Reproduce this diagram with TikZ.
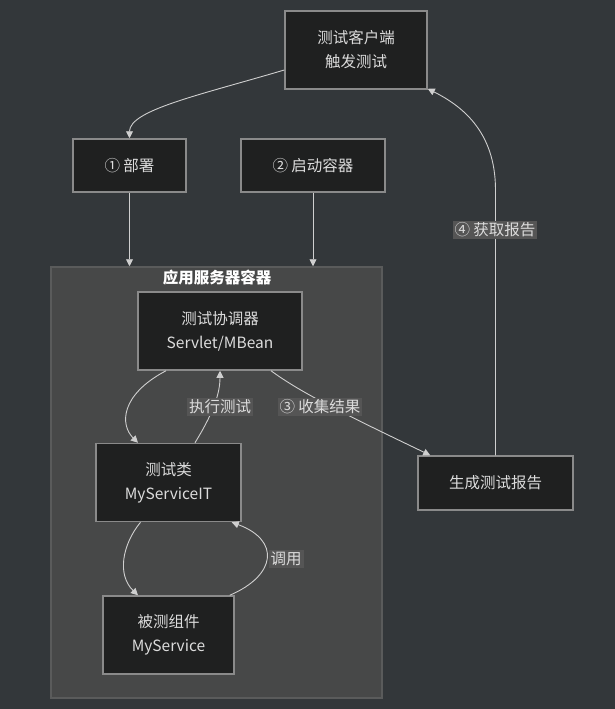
\documentclass[tikz,border=0pt]{standalone}
\usepackage{fontspec}
\setmainfont{Noto Sans CJK SC}
\usetikzlibrary{arrows.meta,calc}
\definecolor{bgc}{HTML}{33373A}
\definecolor{boxfill}{HTML}{1F2020}
\definecolor{boxline}{HTML}{8A8A8A}
\definecolor{clusterfill}{HTML}{474848}
\definecolor{clusterline}{HTML}{5A5B5B}
\definecolor{edgec}{HTML}{CFCFCF}
\definecolor{txtc}{HTML}{DCDCDC}
\definecolor{lblfill}{HTML}{555555}
\tikzset{
  stepbox/.style={draw=boxline, line width=1.5pt, fill=boxfill, text=txtc,
    font=\fontsize{15.5}{24}\selectfont, align=center, inner sep=0pt},
  arr/.style={draw=edgec, line width=0.9pt,
    -{Triangle[length=7pt,width=7pt]}},
  edgelabel/.style={fill=lblfill, text=txtc, inner sep=2pt,
    font=\fontsize{15.5}{18}\selectfont},
}
\begin{document}
\begin{tikzpicture}[x=1pt,y=-1pt]
  \fill[bgc] (0,0) rectangle (615,709);
  \useasboundingbox (0,0) rectangle (615,709);

  % application server cluster
  \node[draw=clusterline, line width=1.5pt, fill=clusterfill,
        minimum width=331pt, minimum height=431pt, inner sep=0pt]
        (cont) at (216.5,482.5) {};
  \node[text=white, font=\fontsize{15.5}{18}\selectfont\bfseries]
        (conttitle) at (217,278) {应用服务器容器};

  % nodes
  \node[stepbox, minimum width=142pt, minimum height=78pt] (client) at (356,50)
        {测试客户端\\触发测试};
  \node[stepbox, minimum width=113pt, minimum height=53pt] (deploy) at (129.5,165.5)
        {① 部署};
  \node[stepbox, minimum width=144pt, minimum height=53pt] (start) at (313,165.5)
        {② 启动容器};
  \node[stepbox, minimum width=164pt, minimum height=78pt] (coord) at (220,331)
        {测试协调器\\Servlet/MBean};
  \node[stepbox, minimum width=145pt, minimum height=78pt] (testc) at (168.5,482.5)
        {测试类\\MyServiceIT};
  \node[stepbox, minimum width=131pt, minimum height=78pt] (svc) at (168.5,635)
        {被测组件\\MyService};
  \node[stepbox, minimum width=155pt, minimum height=54pt] (report) at (495.5,483)
        {生成测试报告};

  % connectors
  \draw[arr] ($(client.west)+(0,20)$) .. controls (200,95) and (129.5,110) .. (deploy.north);
  \draw[arr] (deploy.south) -- (deploy.south |- cont.north);
  \draw[arr] (start.south) -- (start.south |- cont.north);

  \draw[arr] ($(coord.south)+(-54,0)$) .. controls (120,395) and (120,425) .. ($(testc.north)+(-30.5,0)$);
  \draw[arr] ($(testc.north)+(26.5,0)$) .. controls (212,415) and (220,395) .. (coord.south);
  \node[edgelabel] (lblrun) at (220,407) {执行测试};

  \draw[arr] ($(coord.south)+(51,0)$) .. controls (300,392) and (340,412) .. ($(report.north west)+(13,0)$);
  \node[edgelabel] (lblcollect) at (320,407) {③ 收集结果};

  \draw[arr] (report.north) -- (495.5,190) .. controls (495.5,130) and (460,105) .. ($(client.south east)+(0,-1)$);
  \node[edgelabel] (lblfetch) at (495,230) {④ 获取报告};

  \draw[arr] ($(testc.south)+(-28,0)$) .. controls (122,545) and (117,575) .. ($(svc.north)+(-30.5,0)$);
  \draw[arr] ($(svc.north east)+(-5,0)$) .. controls (277,575) and (280,540) .. ($(testc.south east)+(-10,0)$);
  \node[edgelabel] (lblcall) at (286,559) {调用};
\end{tikzpicture}
\end{document}
